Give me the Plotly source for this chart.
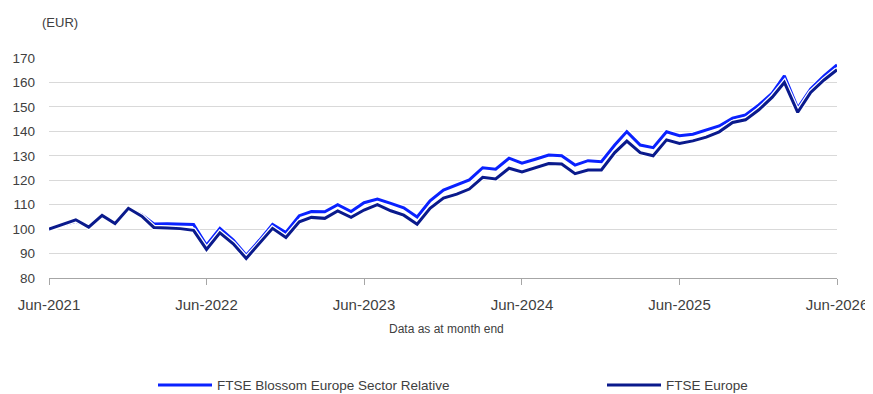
import plotly.graph_objects as go
import pandas as pd

months = pd.date_range("2021-06-30", periods=61, freq="ME")

blossom = [100.0, 101.6, 103.2, 101.0, 105.6, 102.4, 108.4, 105.9, 102.1, 102.2,
           102.2, 101.9, 93.4, 100.3, 95.5, 89.3, 95.5, 101.9, 98.6, 105.5,
           107.2, 107.1, 110.0, 107.2, 110.8, 112.3, 110.5, 108.7, 105.0, 111.6,
           116.0, 118.0, 120.1, 125.1, 124.5, 129.0, 127.0, 128.6, 130.3, 130.0,
           126.2, 128.0, 127.6, 134.4, 139.9, 134.4, 133.3, 139.8, 138.2, 138.8,
           140.4, 142.2, 145.4, 146.7, 150.8, 155.6, 162.7, 149.5, 157.3, 162.7,
           167.2]
europe = [100.0, 101.9, 103.8, 100.8, 105.6, 102.3, 108.5, 105.3, 100.7, 100.5,
          100.2, 99.5, 91.7, 98.5, 94.0, 88.0, 94.1, 100.3, 96.6, 103.0,
          104.8, 104.4, 107.4, 104.8, 107.8, 110.0, 107.5, 105.7, 102.0, 108.5,
          112.7, 114.3, 116.4, 121.2, 120.5, 124.9, 123.4, 125.1, 126.8, 126.6,
          122.7, 124.2, 124.2, 131.3, 136.0, 131.3, 130.0, 136.5, 135.0, 136.1,
          137.6, 139.8, 143.6, 144.7, 148.8, 154.0, 160.0, 147.8, 155.9, 161.0,
          165.2]

tick_labels = ["Jun-2021", "Jun-2022", "Jun-2023", "Jun-2024", "Jun-2025", "Jun-2026"]
tick_dates = list(months[::12])

series_names = ["FTSE Blossom Europe Sector Relative", "FTSE Europe"]
colors = ["#0A22FF", "#0A1A8C"]
legends = ["legend", "legend2"]

FONT = "Liberation Sans, Arial, sans-serif"
TXT = "#404040"

# page body has an 8px default margin: work in screen pixels, convert to figure
OFF = 8
W, H = 873 - OFF, 394 - OFF
PX0, PX1, PY0, PY1 = 49, 837, 57.5, 277.7   # plot area in screen pixels
L, R = PX0 - OFF, W - (PX1 - OFF)
T, B = PY0 - OFF, H - (PY1 - OFF)
pw, ph = PX1 - PX0, PY1 - PY0

def px_x(x):
    return (x - PX0) / pw

def px_y(y):
    return (PY1 - y) / ph

fig = go.Figure()
for name, vals, col, lg in zip(series_names, [blossom, europe], colors, legends):
    fig.add_trace(go.Scatter(x=months, y=vals, mode="lines", showlegend=False,
                             hoverinfo="skip",
                             line=dict(color="white", width=5.5)))
    fig.add_trace(go.Scatter(x=months, y=vals, mode="lines", name=name,
                             legend=lg, line=dict(color=col, width=3)))

legend_common = dict(
    orientation="h", xanchor="left", yanchor="middle",
    y=px_y(385), itemwidth=54,
    font=dict(size=13.5, color=TXT), bgcolor="rgba(0,0,0,0)",
)

fig.update_layout(
    width=W, height=H,
    margin=dict(l=L, r=R, t=T, b=B, autoexpand=False),
    plot_bgcolor="white", paper_bgcolor="white",
    font=dict(family=FONT, size=14, color=TXT),
    xaxis=dict(
        range=[months[0], months[-1]], automargin=False,
        tickvals=tick_dates, ticktext=tick_labels,
        showgrid=False, showline=True, linecolor="#A6A6A6", linewidth=1,
        ticks="outside", ticklen=6, tickcolor="#A6A6A6",
        tickfont=dict(size=15, color=TXT),
        ticklabelstandoff=7,
        zeroline=False,
    ),
    yaxis=dict(
        range=[80, 170], dtick=10, tick0=80, automargin=False,
        showgrid=True, gridcolor="#D9D9D9", gridwidth=1,
        showline=False, zeroline=False, ticks="",
        tickfont=dict(size=13.5, color=TXT),
        ticklabelstandoff=13,
    ),
    legend=dict(x=px_x(153), **legend_common),
    legend2=dict(x=px_x(602), **legend_common),
    showlegend=True,
)

fig.add_annotation(text="(EUR)", xref="paper", yref="paper",
                   x=px_x(40), y=px_y(22), xanchor="left", yanchor="middle",
                   showarrow=False, font=dict(size=13, color=TXT))
fig.add_annotation(text="Data as at month end", xref="paper", yref="paper",
                   x=px_x(446), y=px_y(329), xanchor="center", yanchor="middle",
                   showarrow=False, font=dict(size=12, color=TXT))
fig.add_shape(type="line", xref="paper", yref="paper",
              x0=px_x(0), x1=px_x(858), y0=px_y(6), y1=px_y(6),
              line=dict(color="#1A1AFF", width=1))

fig.write_html("out.html")
